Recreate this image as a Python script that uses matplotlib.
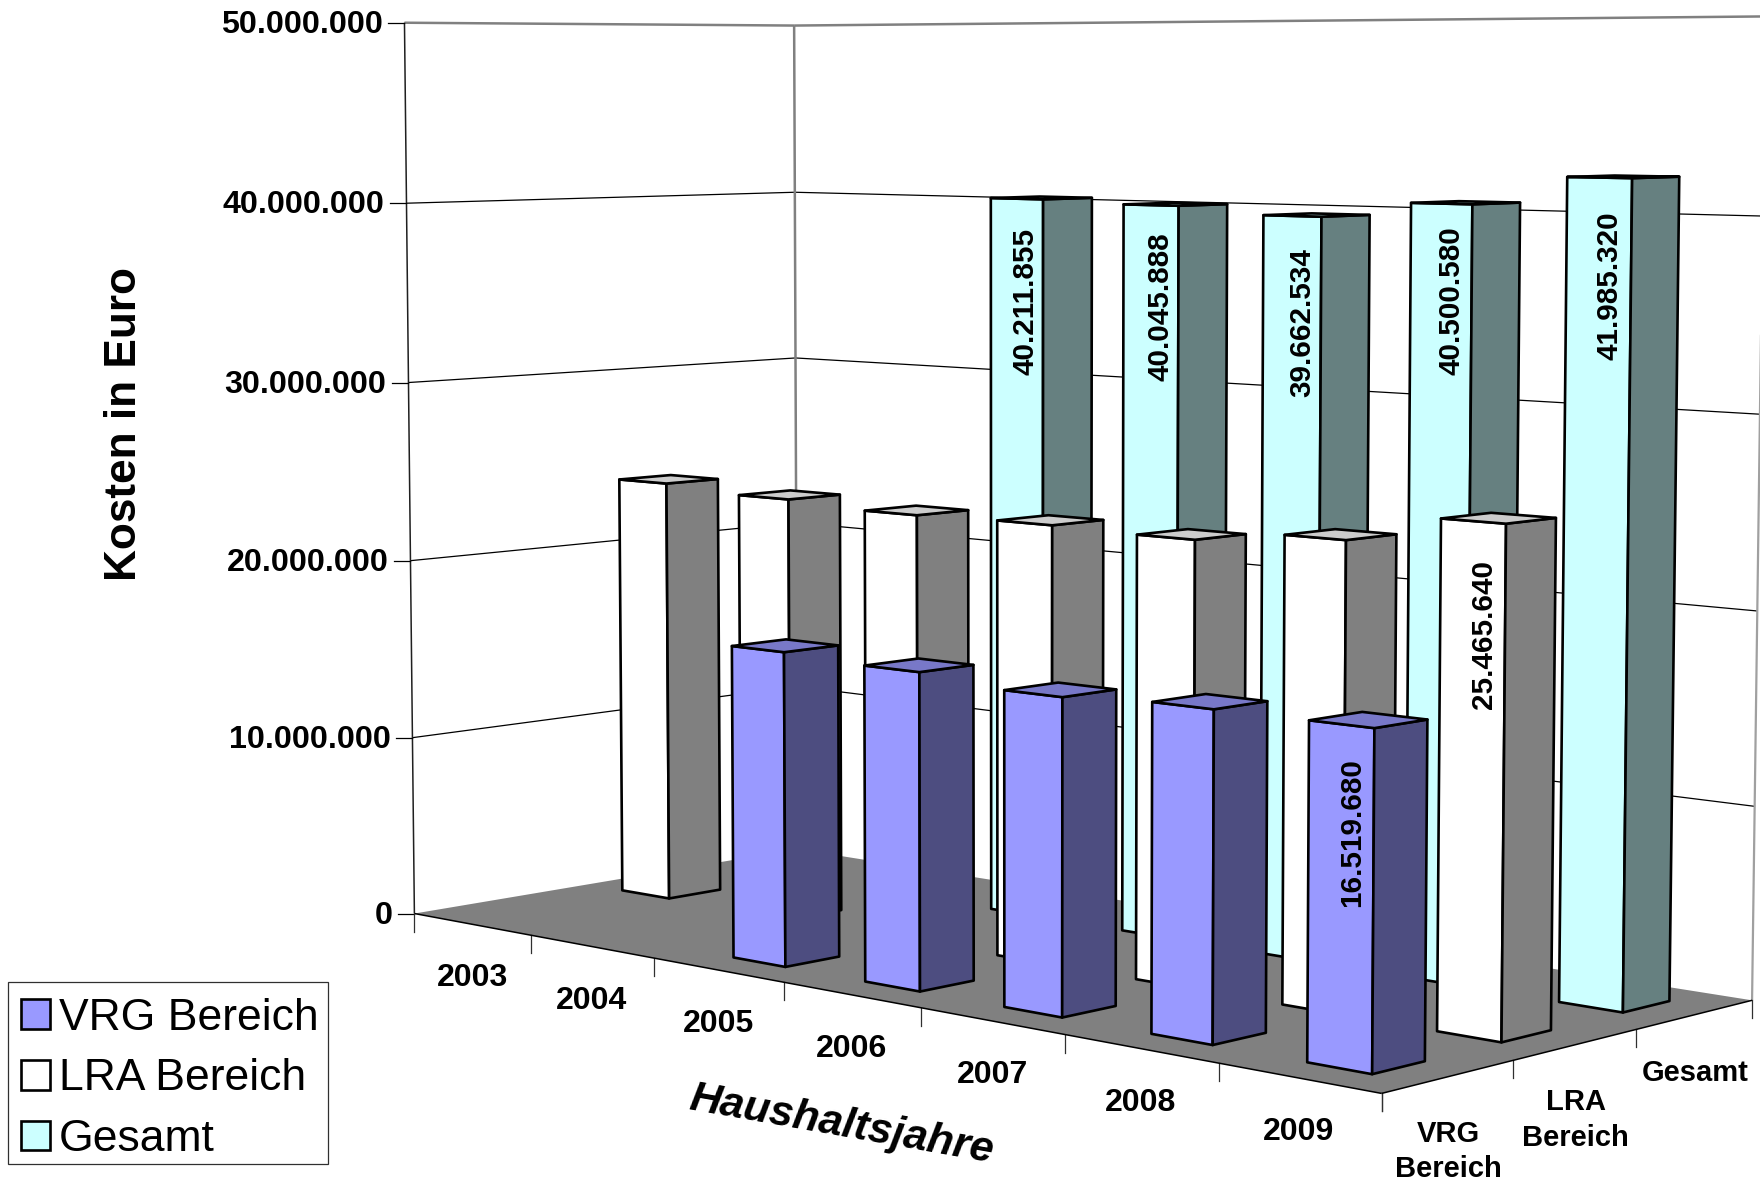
import matplotlib
matplotlib.use('Agg')
import matplotlib.pyplot as plt
from matplotlib.patches import Polygon, Patch, Rectangle
import numpy as np

plt.rcParams['font.family'] = ['Liberation Sans', 'DejaVu Sans']

# chart data
years = ['2003', '2004', '2005', '2006', '2007', '2008', '2009']
series_labels = ['VRG\nBereich', 'LRA\nBereich', 'Gesamt']
legend_labels = ['VRG Bereich', 'LRA Bereich', 'Gesamt']
vrg = [np.nan, np.nan, 16800000, 16600000, 16200000, 16500000, 16519680]
lra = [23900000, 23600000, 23350000, 23450000, 23350000, 24000000, 25465640]
gesamt = [np.nan, np.nan, 40211855, 40045888, 39662534, 40500580, 41985320]
z_ticks = [0, 10000000, 20000000, 30000000, 40000000, 50000000]

# bars with a value label, and how far below the bar top the label centre sits
label_drop = {(0, 6): 5100000, (1, 6): 5500000, (2, 2): 5700000, (2, 3): 5500000,
              (2, 4): 5600000, (2, 5): 4970000, (2, 6): 5400000}

# (front, side, top) colours per series
colors = [('#9999FF', '#4D4D80', '#7878C8'),
          ('#FFFFFF', '#808080', '#CCCCCC'),
          ('#CCFFFF', '#668080', '#A3CCCC')]

# camera: fit a projective matrix from chart corners seen in the picture
world = np.array([(0, 0, 0), (7, 0, 0), (7, 3, 0), (0, 3, 0), (0, 0, 5), (0, 3, 5), (7, 3, 5),
                  (0, 0, 4), (0, 3, 4), (7, 3, 4), (1, 0, 0), (3, 0, 0), (7, 1, 0), (7, 2, 0)], float)
screen = np.array([(414, 914.5), (1380.7, 1091.7), (1752.7, 1001.7), (797, 847), (404, 22), (794, 26), (1765, 17),
                   (407, 203), (795, 193), (1763, 215), (531.6, 936), (784.7, 983), (1512.7, 1060), (1636, 1030)])
rows, rhs = [], []
for (a, b, c), (u, v) in zip(world, screen):
    rows.append([a, b, c, 1, 0, 0, 0, 0, -u * a, -u * b, -u * c])
    rows.append([0, 0, 0, 0, a, b, c, 1, -v * a, -v * b, -v * c])
    rhs += [u, v]
cam = np.append(np.linalg.lstsq(np.array(rows), np.array(rhs), rcond=None)[0], 1).reshape(3, 4)


def project(x, y, value):
    p = cam @ np.array([x, y, value / 1e7, 1.0])
    return p[0] / p[2], p[1] / p[2]


fig = plt.figure(figsize=(17.6, 11.83), dpi=100)
ax = fig.add_axes([0, 0, 1, 1])
ax.set_xlim(0, 1760)
ax.set_ylim(1183, 0)
ax.axis('off')


def seg(p0, p1, color='black', lw=0.9, zorder=2):
    ax.plot(*zip(project(*p0), project(*p1)), color=color, lw=lw, zorder=zorder, solid_capstyle='butt')


nx, ny, top = len(years), len(series_labels), z_ticks[-1]

# floor
ax.add_patch(Polygon([project(0, 0, 0), project(nx, 0, 0), project(nx, ny, 0), project(0, ny, 0)],
                     fc='#808080', ec='none', zorder=1))
seg((0, 0, 0), (nx, 0, 0), lw=1.1, zorder=3)
seg((nx, 0, 0), (nx, ny, 0), lw=1.1, zorder=3)

# gridlines on the two walls
for z in z_ticks[1:-1]:
    seg((0, 0, z), (0, ny, z))
    seg((0, ny, z), (nx, ny, z))
seg((0, 0, top), (0, ny, top), color='#808080', lw=1.8)
seg((0, ny, top), (nx, ny, top), color='#808080', lw=1.8)
seg((0, ny, 0), (0, ny, top), color='#808080', lw=1.8)
seg((nx, ny, 0), (nx, ny, top), color='#A0A0A0', lw=1.6)
seg((0, 0, 0), (0, 0, top), color='#202020', lw=1.1)

# value axis ticks
for z in z_ticks:
    u, v = project(0, 0, z)
    ax.plot([u - 16, u], [v, v], color='black', lw=0.9, zorder=2)
    ax.text(u - 22, v + 2, f'{z:,}'.replace(',', '.'), ha='right', va='center', fontsize=23.2, fontweight='bold')

# category ticks
for i in range(nx + 1):
    u, v = project(i, 0, 0)
    ax.plot([u, u], [v, v + 18], color='#303030', lw=0.9, zorder=2)
for j in range(ny + 1):
    u, v = project(nx, j, 0)
    ax.plot([u, u], [v, v + 18], color='#303030', lw=0.9, zorder=2)

# category labels
for i, name in enumerate(years):
    u, v = project(i + 0.5, 0, 0)
    ax.text(u, v + 54, name, ha='center', va='center', fontsize=23, fontweight='bold')
for j, name in enumerate(series_labels):
    u, v = project(nx, j + 0.5, 0)
    drop = 58 if '\n' not in name else 75
    ax.text(u, v + drop, name, ha='center', va='center', fontsize=21, fontweight='bold', linespacing=1.35)

# bars, painted back to front
values = [vrg, lra, gesamt]
width = 0.4
order = 10
for j in range(ny - 1, -1, -1):
    front, side, cap = colors[j]
    for i in range(nx):
        val = values[j][i]
        if np.isnan(val):
            continue
        x0, x1 = i + 0.5 - width / 2, i + 0.5 + width / 2
        y0, y1 = j + 0.5 - width / 2, j + 0.5 + width / 2
        faces = [
            ([(x0, y0, 0), (x1, y0, 0), (x1, y0, val), (x0, y0, val)], front),
            ([(x1, y0, 0), (x1, y1, 0), (x1, y1, val), (x1, y0, val)], side),
            ([(x0, y0, val), (x1, y0, val), (x1, y1, val), (x0, y1, val)], cap),
        ]
        for pts, fc in faces:
            ax.add_patch(Polygon([project(*p) for p in pts], fc=fc, ec='black', lw=1.9,
                                 joinstyle='round', zorder=order))
        order += 1
        if (j, i) in label_drop:
            u, v = project(i + 0.5 + 0.07, y0, val - label_drop[(j, i)])
            ax.text(u, v, f'{int(val):,}'.replace(',', '.'), rotation=90, ha='center', va='center',
                    fontsize=21.3, fontweight='bold', zorder=order)
            order += 1

# axis titles
ax.text(125, 424, 'Kosten in Euro', rotation=90, ha='center', va='center', fontsize=31.8, fontweight='bold')
ax.text(841, 1125, 'Haushaltsjahre', rotation=-10, ha='center', va='center', fontsize=31,
        fontweight='bold', fontstyle='italic')

# legend
ax.add_patch(Rectangle((8, 982), 320, 182, fc='white', ec='#303030', lw=0.9, zorder=999))
handles = [Patch(fc=c[0], ec='black', lw=1.9) for c in colors]
leg = ax.legend(handles, legend_labels, loc='lower left', bbox_to_anchor=(20.5, 1160), bbox_transform=ax.transData,
                fontsize=32, frameon=False, borderaxespad=0, borderpad=0, handlelength=0.66, handleheight=0.65,
                handletextpad=0.2, labelspacing=0.44)
leg.set_zorder(1000)

fig.savefig('out.png', dpi=100)
plt.close(fig)
